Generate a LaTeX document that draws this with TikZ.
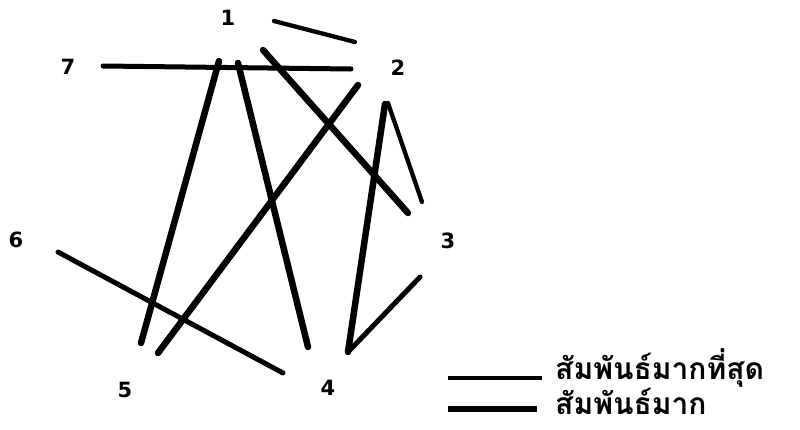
\documentclass[tikz,border=0pt]{standalone}
\usepackage{fontspec}
\newfontfamily\thaifont[Script=Thai]{Loma}
\newfontfamily\numfont{DejaVu Sans}
\begin{document}
\begin{tikzpicture}[x=1pt,y=-1pt,
  lbl/.style={font=\numfont\bfseries\fontsize{21}{21}\selectfont, inner sep=0pt},
  thinline/.style={line width=4.3pt, line cap=round},
  medline/.style={line width=5pt, line cap=round},
  thickline/.style={line width=6.5pt, line cap=round},
  legtext/.style={font=\thaifont\bfseries\fontsize{30}{30}\selectfont, anchor=base west, inner sep=0pt}]
\useasboundingbox (0,0) rectangle (800,429);
% labels
\node[lbl] (n1) at (228,18) {1};
\node[lbl] (n2) at (398,68) {2};
\node[lbl] (n3) at (448,241) {3};
\node[lbl] (n4) at (328,388) {4};
\node[lbl] (n5) at (125,390) {5};
\node[lbl] (n6) at (16,240) {6};
\node[lbl] (n7) at (68,67) {7};
% endpoints
\coordinate (a12) at (274,21);  \coordinate (b12) at (355,42);
\coordinate (a72) at (103,66);  \coordinate (b72) at (351,69);
\coordinate (a15) at (219,61);  \coordinate (b15) at (141,343);
\coordinate (a14) at (238,63);  \coordinate (b14) at (308,347);
\coordinate (a13) at (263,50);  \coordinate (b13) at (408,213);
\coordinate (a25) at (358,85);  \coordinate (b25) at (158,353);
\coordinate (a23) at (388,103); \coordinate (b23) at (422,202);
\coordinate (a24) at (385,104); \coordinate (b24) at (348,352);
\coordinate (a34) at (420,277);
\coordinate (a64) at (58,252);  \coordinate (b64) at (283,373);
% connectors
\draw[thinline] (a12) -- (b12);
\draw[medline] (a72) -- (b72);
\draw[thickline] (a15) -- (b15);
\draw[thickline] (a14) -- (b14);
\draw[thickline] (a13) -- (b13);
\draw[thickline] (a25) -- (b25);
\draw[thinline] (a23) -- (b23);
\draw[thickline] (a24) -- (b24);
\draw[medline] (a34) -- (b24);
\draw[medline] (a64) -- (b64);
% legend
\coordinate (l1a) at (448,378); \coordinate (l1b) at (542,378);
\coordinate (l2a) at (448,409); \coordinate (l2b) at (537,409);
\draw[line width=3.5pt] (l1a) -- (l1b);
\draw[line width=5.5pt] (l2a) -- (l2b);
\node[legtext] (t1) at (555,379) {สัมพันธ์มากที่สุด};
\node[legtext] (t2) at (555,414) {สัมพันธ์มาก};
\end{tikzpicture}
\end{document}
